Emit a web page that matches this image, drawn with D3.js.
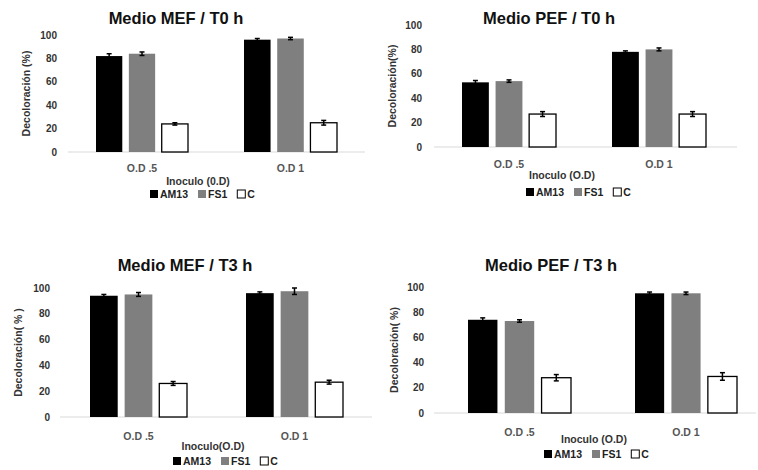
<!DOCTYPE html>
<html>
<head>
<meta charset="utf-8">
<script src="https://cdn.jsdelivr.net/npm/d3@7"></script>
<style>
  body { margin: 0; background: #fff; }
  svg { display: block; }
</style>
</head>
<body>
<script>
const WIDTH = 758;
const HEIGHT = 470;

var categories = ['O.D .5', 'O.D 1'];
var series = ['AM13', 'FS1', 'C'];
var yTicks = [0, 20, 40, 60, 80, 100];

// values per series, one entry per category
var mefT0 = [[82, 96], [84, 97], [24, 25]];
var mefT0Err = [[2, 1], [1.5, 1], [1, 2]];
var pefT0 = [[53, 78], [54, 80], [27, 27]];
var pefT0Err = [[1.5, 0.8], [1, 1.2], [2, 2]];
var mefT3 = [[94, 96], [95, 97.5], [26, 27]];
var mefT3Err = [[1, 1], [1.5, 2.5], [1.5, 1.5]];
var pefT3 = [[74, 95], [73, 95], [28, 29]];
var pefT3Err = [[1.5, 1], [1, 1], [2.5, 3]];

var colors = ['#000000', '#7f7f7f', '#ffffff'];

// layout of each panel (pixel boxes)
var panels = [
  {title: 'Medio MEF / T0 h', values: mefT0, errs: mefT0Err, ylabel: 'Decoloración (%)', xlabel: 'Inoculo (0.D)',
   titleX: 176, titleY: 24, left: 68, right: 365, top: 35, bottom: 152, tickX: 57, ylabX: 30,
   cat: [[96, 188], [244, 337]], catY: 172, xlabX: 198, xlabY: 185, legX: 150, legY: 198},
  {title: 'Medio PEF / T0 h', values: pefT0, errs: pefT0Err, ylabel: 'Decoloración(%)', xlabel: 'Inoculo (O.D)',
   titleX: 549, titleY: 24, left: 434, right: 737, top: 25, bottom: 147, tickX: 422, ylabX: 396,
   cat: [[462, 556], [612, 706]], catY: 168, xlabX: 562, xlabY: 179, legX: 526, legY: 196},
  {title: 'Medio MEF / T3 h', values: mefT3, errs: mefT3Err, ylabel: 'Decoloración( % )', xlabel: 'Inoculo(O.D)',
   titleX: 185, titleY: 271, left: 60, right: 372, top: 288, bottom: 417, tickX: 50, ylabX: 22,
   cat: [[90, 187], [246, 343]], catY: 440, xlabX: 213, xlabY: 450, legX: 173, legY: 465},
  {title: 'Medio PEF / T3 h', values: pefT3, errs: pefT3Err, ylabel: 'Decoloración( %)', xlabel: 'Inoculo (O.D)',
   titleX: 551, titleY: 271, left: 434, right: 756, top: 287, bottom: 413, tickX: 424, ylabX: 398,
   cat: [[468, 571], [635, 737]], catY: 436, xlabX: 594, xlabY: 443, legX: 544, legY: 458}
];

var svg = d3.select('body').append('svg')
    .attr('width', WIDTH)
    .attr('height', HEIGHT)
    .style('font-family', "'Liberation Sans', Arial, sans-serif");

var drawPanel = function(p) {
  var g = svg.append('g');

  var y = d3.scaleLinear().domain([0, 100]).range([p.bottom, p.top]);

  g.append('text')
    .attr('x', p.titleX).attr('y', p.titleY)
    .attr('text-anchor', 'middle')
    .attr('font-size', 16.5).attr('font-weight', 'bold')
    .attr('fill', '#111')
    .text(p.title);

  // y tick labels (no axis line, Excel style)
  g.selectAll('.ytick')
    .data(yTicks)
    .enter().append('text')
    .attr('x', p.tickX)
    .attr('y', function(d) { return y(d) + 3.5; })
    .attr('text-anchor', 'end')
    .attr('font-size', 10).attr('font-weight', 'bold')
    .attr('fill', '#333')
    .text(function(d) { return d; });

  g.append('text')
    .attr('transform', 'translate(' + p.ylabX + ',' + ((p.top + p.bottom) / 2) + ') rotate(-90)')
    .attr('text-anchor', 'middle')
    .attr('font-size', 10.5).attr('font-weight', 'bold')
    .attr('fill', '#333')
    .text(p.ylabel);

  g.append('line')
    .attr('x1', p.left).attr('x2', p.right)
    .attr('y1', p.bottom).attr('y2', p.bottom)
    .attr('stroke', '#d9d9d9').attr('stroke-width', 1);

  categories.forEach(function(cat, ci) {
    var span = p.cat[ci];
    var x = d3.scaleBand().domain(series).range(span).paddingInner(0.2);

    var bars = g.selectAll('.bar' + ci)
      .data(series)
      .enter().append('g');

    bars.append('rect')
      .attr('x', function(s) { return x(s); })
      .attr('y', function(s, si) { return y(p.values[si][ci]); })
      .attr('width', x.bandwidth())
      .attr('height', function(s, si) { return p.bottom - y(p.values[si][ci]); })
      .attr('fill', function(s, si) { return colors[si]; })
      .attr('stroke', function(s, si) { return si === 2 ? '#000' : 'none'; })
      .attr('stroke-width', 1.3);

    // error bars
    bars.each(function(s, si) {
      var cx = x(s) + x.bandwidth() / 2;
      var v = p.values[si][ci], e = p.errs[si][ci];
      var eg = d3.select(this).append('g').attr('stroke', '#000').attr('stroke-width', 1.5);
      eg.append('line').attr('x1', cx).attr('x2', cx).attr('y1', y(v + e)).attr('y2', y(v - e));
      eg.append('line').attr('x1', cx - 2.5).attr('x2', cx + 2.5).attr('y1', y(v + e)).attr('y2', y(v + e));
      eg.append('line').attr('x1', cx - 2.5).attr('x2', cx + 2.5).attr('y1', y(v - e)).attr('y2', y(v - e));
    });

    g.append('text')
      .attr('x', (span[0] + span[1]) / 2)
      .attr('y', p.catY)
      .attr('text-anchor', 'middle')
      .attr('font-size', 10.5).attr('font-weight', 'bold')
      .attr('fill', '#555')
      .text(cat);
  });

  g.append('text')
    .attr('x', p.xlabX).attr('y', p.xlabY)
    .attr('text-anchor', 'middle')
    .attr('font-size', 10.5).attr('font-weight', 'bold')
    .attr('fill', '#333')
    .text(p.xlabel);

  // legend
  var lx = p.legX;
  series.forEach(function(s, si) {
    g.append('rect')
      .attr('x', lx).attr('y', p.legY - 8)
      .attr('width', 8).attr('height', 8)
      .attr('fill', colors[si])
      .attr('stroke', si === 2 ? '#000' : 'none');
    var t = g.append('text')
      .attr('x', lx + 10).attr('y', p.legY)
      .attr('font-size', 10.5).attr('font-weight', 'bold')
      .attr('fill', '#222')
      .text(s);
    lx += 10 + t.node().getComputedTextLength() + 10;
  });
};

panels.forEach(drawPanel);
</script>
</body>
</html>
